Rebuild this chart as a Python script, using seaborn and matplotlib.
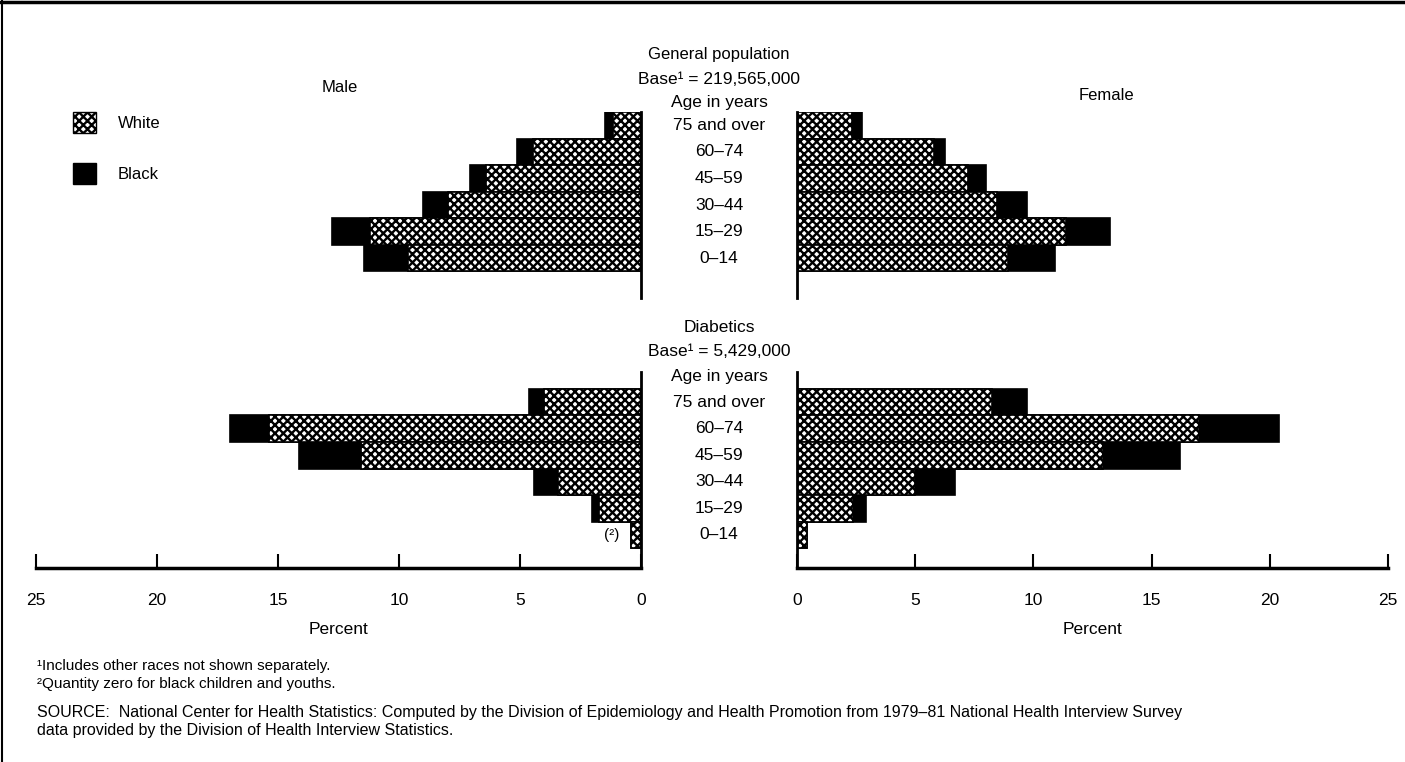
import numpy as np
import pandas as pd
import seaborn as sns
import matplotlib.pyplot as plt
from matplotlib.patches import Patch
from matplotlib.lines import Line2D
from matplotlib.transforms import blended_transform_factory

ages = ["75 and over", "60–74", "45–59", "30–44", "15–29", "0–14"]

# percent of each population, white part and black part (stacked)
male_gen_white = [1.16, 4.46, 6.40, 7.98, 11.20, 9.63]
male_gen_black = [0.33, 0.66, 0.67, 1.02, 1.57, 1.82]
female_gen_white = [2.31, 5.79, 7.23, 8.47, 11.36, 8.93]
female_gen_black = [0.42, 0.49, 0.75, 1.24, 1.90, 1.97]

male_dia_white = [4.00, 15.37, 11.57, 3.43, 1.74, 0.41]
male_dia_black = [0.63, 1.61, 2.56, 0.99, 0.28, 0.00]
female_dia_white = [8.26, 17.02, 12.93, 5.00, 2.36, 0.41]
female_dia_black = [1.49, 3.35, 3.27, 1.69, 0.57, 0.00]

ticks = [0, 5, 10, 15, 20, 25]

sns.set_theme(style="white")
plt.rcParams["font.family"] = ["Liberation Sans", "DejaVu Sans"]
plt.rcParams["text.color"] = "black"
plt.rcParams["axes.labelcolor"] = "black"
plt.rcParams["hatch.linewidth"] = 1.7

W, H = 1405, 762
fig = plt.figure(figsize=(W / 100, H / 100), dpi=100)


def px_axes(x0, y0, x1, y1):
    return fig.add_axes([x0 / W, 1 - y1 / H, (x1 - x0) / W, (y1 - y0) / H])


HATCH = "xxxx"


def draw_panel(ax, white, black, male, bottom):
    df = pd.DataFrame({"age": ages, "white": white, "black": black})
    df["total"] = df["white"] + df["black"]
    sns.barplot(data=df, y="age", x="total", order=ages, orient="h", color="black",
                saturation=1, width=1.0, edgecolor="black", linewidth=1.2, ax=ax)
    sns.barplot(data=df, y="age", x="white", order=ages, orient="h", color="white",
                saturation=1, width=1.0, edgecolor="black", linewidth=1.2, hatch=HATCH, ax=ax)
    ax.set_xlim((25, 0) if male else (0, 25))
    ax.set_ylim((6.25, -1.14) if bottom else (6.5, -0.5))
    ax.set_ylabel("")
    ax.set_yticks([])
    for s in ax.spines.values():
        s.set_visible(False)
    inner = "right" if male else "left"
    ax.spines[inner].set_visible(True)
    ax.spines[inner].set_linewidth(2)
    ax.spines[inner].set_color("black")
    if bottom:
        ax.spines["bottom"].set_visible(True)
        ax.spines["bottom"].set_linewidth(2.5)
        ax.spines["bottom"].set_color("black")
        ax.set_xticks(ticks)
        ax.set_xticklabels([str(t) for t in ticks], fontsize=12.5)
        ax.tick_params(axis="x", direction="in", length=10, width=1.5, pad=18,
                       bottom=True, colors="black")
        ax.set_xlabel("Percent", fontsize=12.5, labelpad=10)
    else:
        ax.set_xticks([])
        ax.set_xlabel("")
    ax.patch.set_alpha(0)


ax_mg = px_axes(36, 112, 641, 298)
ax_fg = px_axes(797, 112, 1388, 298)
ax_md = px_axes(36, 372, 641, 568)
ax_fd = px_axes(797, 372, 1388, 568)

draw_panel(ax_mg, male_gen_white, male_gen_black, True, False)
draw_panel(ax_fg, female_gen_white, female_gen_black, False, False)
draw_panel(ax_md, male_dia_white, male_dia_black, True, True)
draw_panel(ax_fd, female_dia_white, female_dia_black, False, True)

# age labels between the two halves
cx = 719 / W
for ax in (ax_mg, ax_md):
    tr = blended_transform_factory(fig.transFigure, ax.transData)
    for i, a in enumerate(ages):
        ax.text(cx, i, a, transform=tr, ha="center", va="center", fontsize=12.5)

ax_md.text(1.2, 5, "(²)", ha="center", va="center", fontsize=11)


def ftext(x, y, s, **kw):
    fig.text(x / W, 1 - y / H, s, **kw)


ftext(719, 55, "General population", ha="center", va="center", fontsize=12)
ftext(719, 79, "Base¹ = 219,565,000", ha="center", va="center", fontsize=12.5)
ftext(719, 103, "Age in years", ha="center", va="center", fontsize=12.5)
ftext(719, 327, "Diabetics", ha="center", va="center", fontsize=12.5)
ftext(719, 351, "Base¹ = 5,429,000", ha="center", va="center", fontsize=12.5)
ftext(719, 377, "Age in years", ha="center", va="center", fontsize=12.5)
ftext(340, 87, "Male", ha="center", va="center", fontsize=12)
ftext(1106, 96, "Female", ha="center", va="center", fontsize=12)

handles = [Patch(facecolor="white", edgecolor="black", hatch=HATCH),
           Patch(facecolor="black", edgecolor="black")]
fig.legend(handles, ["White", "Black"], loc="upper left",
           bbox_to_anchor=(58 / W, 1 - 97 / H), frameon=False, fontsize=12,
           handlelength=1.4, handleheight=1.6, labelspacing=1.75, handletextpad=1.3)

ftext(37, 666, "¹Includes other races not shown separately.", ha="left", va="center", fontsize=11)
ftext(37, 684, "²Quantity zero for black children and youths.", ha="left", va="center", fontsize=11)
ftext(37, 712, "SOURCE:  National Center for Health Statistics: Computed by the Division of Epidemiology "
      "and Health Promotion from 1979–81 National Health Interview Survey",
      ha="left", va="center", fontsize=11.5)
ftext(37, 731, "data provided by the Division of Health Interview Statistics.",
      ha="left", va="center", fontsize=11.5)

# frame around the figure (top and left)
fig.add_artist(Line2D([0, 1], [1 - 2 / H, 1 - 2 / H], transform=fig.transFigure, color="black", lw=2.5))
fig.add_artist(Line2D([2 / W, 2 / W], [0, 1], transform=fig.transFigure, color="black", lw=1.5))

fig.savefig("out.png", dpi=100)
